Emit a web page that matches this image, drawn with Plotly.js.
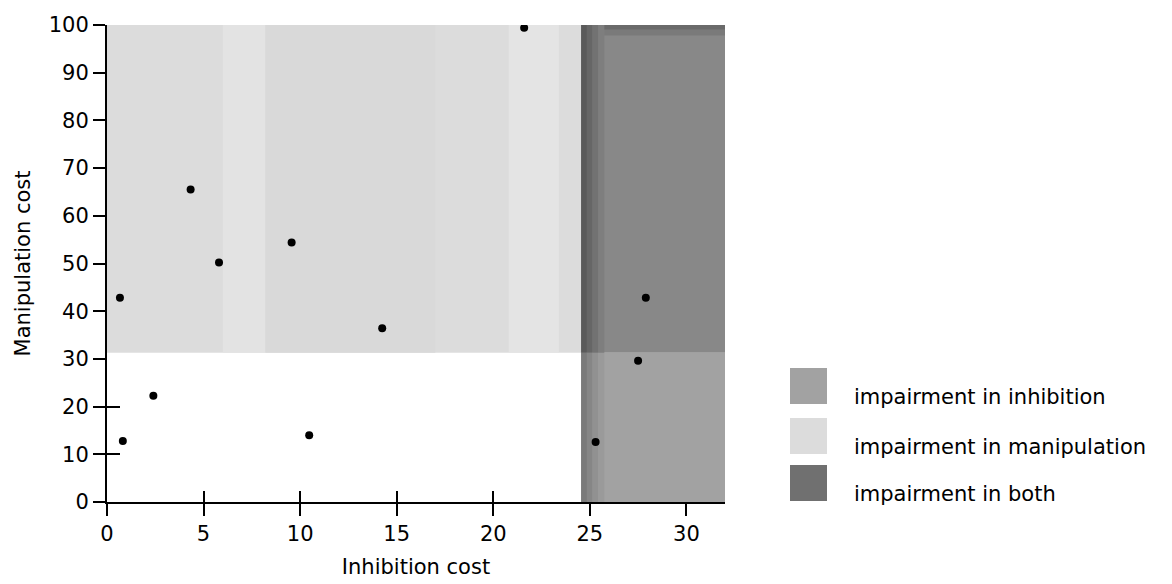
<!DOCTYPE html>
<html>
<head>
<meta charset="utf-8">
<script src="https://cdn.plot.ly/plotly-3.0.1.min.js"></script>
<style>html,body{margin:0;padding:0;background:#fff;}#chart{width:1172px;height:584px;}</style>
</head>
<body>
<div id="chart"></div>
<script>
// ---- data ----
const inhibitionCost   = [0.67, 0.82, 2.4, 4.33, 5.8, 9.56, 10.47, 14.25, 21.6, 25.3, 27.5, 27.9];
const manipulationCost = [42.8, 12.8, 22.3, 65.5, 50.2, 54.4, 14.0, 36.4, 99.4, 12.6, 29.6, 42.8];
const inhibitionThreshold = 24.55;
const manipulationThreshold = 31.3;
const xMax = 32;
const yMax = 100;
const xTicks = [0, 5, 10, 15, 20, 25, 30];
const yTicks = [0, 10, 20, 30, 40, 50, 60, 70, 80, 90, 100];
const legendLabels = ['impairment in inhibition', 'impairment in manipulation', 'impairment in both'];

// ---- styling / geometry ----
const FONT = 'DejaVu Sans, Liberation Sans, Arial, sans-serif';
const W = 1172, H = 584;
const M = {l: 107, r: 447, t: 25, b: 82};
const plotW = W - M.l - M.r, plotH = H - M.t - M.b;
const pxX = p => (p - M.l) / plotW;           // pixel -> paper x
const pxY = p => (H - M.b - p) / plotH;        // pixel -> paper y

const cLight = '#dcdcdc', cInhib = '#a2a2a2', cBoth = '#888888';
const legendColors = [cInhib, cLight, '#707070'];

const shapes = [];
function rect(x0, x1, y0, y1, color) {
  shapes.push({type: 'rect', xref: 'x', yref: 'y', x0, x1, y0, y1,
    fillcolor: color, line: {width: 0}, layer: 'below'});
}
// manipulation impairment region (light) with subtle banding
rect(0, inhibitionThreshold, manipulationThreshold, yMax, cLight);
rect(6.0, 8.2, manipulationThreshold, yMax, '#e3e3e3');
rect(8.2, 17.0, manipulationThreshold, yMax, '#d9d9d9');
rect(20.8, 23.4, manipulationThreshold, yMax, '#e4e4e4');
// inhibition impairment region (bottom right), darker toward left edge
rect(inhibitionThreshold, xMax, 0, manipulationThreshold, cInhib);
const edgeInhib = ['#7a7a7a', '#868686', '#919191', '#9a9a9a'];
const edgeBoth = ['#5a5a5a', '#666666', '#727272', '#7e7e7e'];
edgeInhib.forEach((c, i) => rect(inhibitionThreshold + i * 0.3, inhibitionThreshold + (i + 1) * 0.3, 0, manipulationThreshold, c));
// both impairment region (top right)
rect(inhibitionThreshold, xMax, manipulationThreshold, yMax, cBoth);
edgeBoth.forEach((c, i) => rect(inhibitionThreshold + i * 0.3, inhibitionThreshold + (i + 1) * 0.3, manipulationThreshold, yMax, c));
rect(inhibitionThreshold + 1.2, xMax, yMax - 1.0, yMax, '#6a6a6a');
rect(inhibitionThreshold + 1.2, xMax, yMax - 2.2, yMax - 1.0, '#7a7a7a');

// legend swatches + labels
const swTop = [368, 418, 465], swH = 36;
const annotations = [];
legendLabels.forEach((lab, i) => {
  shapes.push({type: 'rect', xref: 'paper', yref: 'paper',
    x0: pxX(790), x1: pxX(827), y0: pxY(swTop[i] + swH), y1: pxY(swTop[i]),
    fillcolor: legendColors[i], line: {width: 0}});
  annotations.push({xref: 'paper', yref: 'paper', x: pxX(852), y: pxY(swTop[i] + swH / 2 + 11),
    xanchor: 'left', yanchor: 'middle', showarrow: false, text: lab,
    font: {family: FONT, size: 21, color: '#000'}});
});

const traces = [
  {type: 'scatter', mode: 'markers', x: inhibitionCost, y: manipulationCost,
   marker: {color: '#000', size: 8}, showlegend: false, hoverinfo: 'x+y'},
  {type: 'scatter', mode: 'markers', x: [], y: [], xaxis: 'x2', yaxis: 'y2',
   showlegend: false, hoverinfo: 'skip'}
];

const axBase = {showgrid: false, zeroline: false, showline: true, linecolor: '#000', linewidth: 2,
  ticks: 'outside', ticklen: 12, tickwidth: 2, tickcolor: '#000',
  tickfont: {family: FONT, size: 21, color: '#000'}, fixedrange: true};

const layout = {
  width: W, height: H, margin: M, paper_bgcolor: '#fff', plot_bgcolor: '#fff',
  showlegend: false,
  xaxis: Object.assign({}, axBase, {range: [0, xMax], tickvals: xTicks,
    title: {text: 'Inhibition cost', font: {family: FONT, size: 21, color: '#000'}, standoff: 14}}),
  yaxis: Object.assign({}, axBase, {range: [0, yMax], tickvals: yTicks,
    title: {text: 'Manipulation cost', font: {family: FONT, size: 21, color: '#000'}, standoff: 12}}),
  xaxis2: {overlaying: 'x', anchor: 'y2', range: [0, xMax], side: 'bottom', showgrid: false, zeroline: false,
    showline: false, ticks: 'inside', ticklen: 11, tickwidth: 2, tickcolor: '#000',
    tickvals: [5, 10, 15, 20], showticklabels: false, fixedrange: true},
  yaxis2: {overlaying: 'y', anchor: 'x2', range: [0, yMax], side: 'left', showgrid: false, zeroline: false,
    showline: false, ticks: 'inside', ticklen: 13, tickwidth: 2, tickcolor: '#000',
    tickvals: [10, 20, 100], showticklabels: false, fixedrange: true},
  shapes, annotations
};

Plotly.newPlot('chart', traces, layout, {displayModeBar: false, staticPlot: true});
</script>
</body>
</html>
